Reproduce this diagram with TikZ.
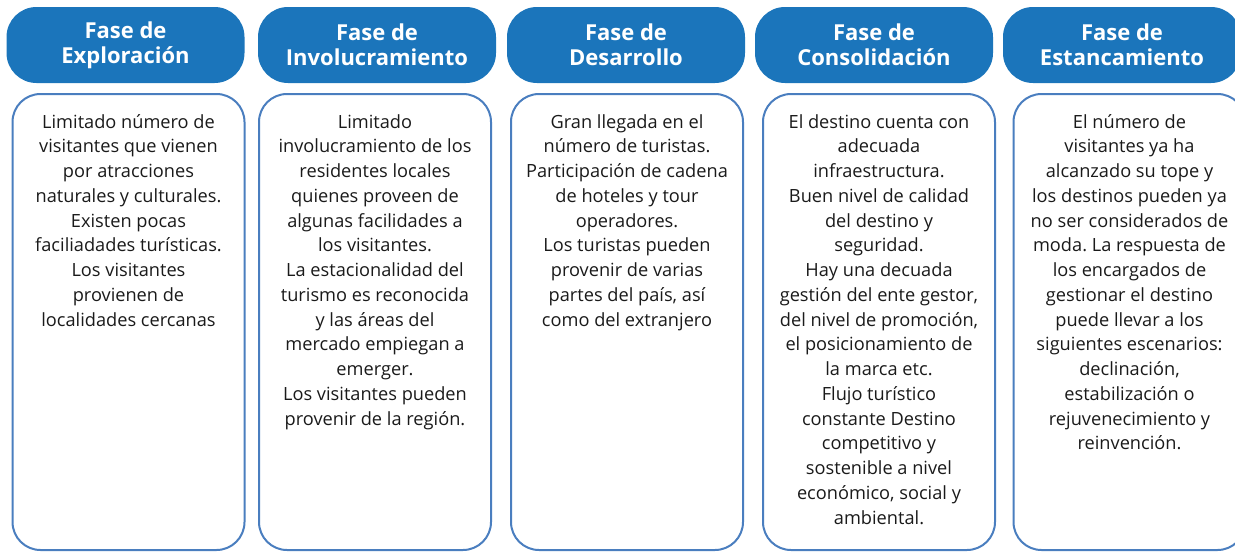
\documentclass[tikz,border=0pt]{standalone}
\usepackage{fontspec}
\setmainfont{Open Sans}
\usetikzlibrary{positioning}
\definecolor{phaseblue}{RGB}{27,117,187}
\definecolor{boxblue}{RGB}{74,126,191}
\definecolor{bodyink}{RGB}{26,26,26}
\frenchspacing
\tikzset{
  phasehead/.style = {
    fill=phaseblue, rounded corners=30pt, inner sep=0pt,
    minimum width=238pt, minimum height=76pt,
    text=white, align=center, font=\bfseries\fontsize{22}{25}\selectfont
  },
  phasebox/.style = {
    draw=boxblue, line width=2pt, rounded corners=28pt, inner sep=0pt,
    minimum width=232pt, minimum height=456pt, anchor=north
  },
  phasetext/.style = {
    inner sep=0pt, align=center, text=bodyink,
    font=\fontsize{18.2}{24.75}\selectfont, execute at begin node={\strut}
  },
}

\begin{document}
\begin{tikzpicture}[x=1pt,y=-1pt]
  \pgfmathsetmacro{\headmid}{45};
  \pgfmathsetmacro{\boxtop}{93};
  \pgfmathsetmacro{\textgap}{21};
  \clip (0,0) rectangle (1235,552);
  % headers
  \foreach \i/\hx/\phase in {1/125.5/Exploración,2/377/Involucramiento,3/626/Desarrollo,4/874/Consolidación,5/1122/Estancamiento} {%
    \node[phasehead] (head\i) at (\hx,\headmid) {Fase de\\\phase};
  }
  % boxes
  \foreach \i/\bx in {1/128.5,2/375,3/627,4/879,5/1129.5} {%
    \node[phasebox] (box\i) at (\bx,\boxtop) {};
  }
  % texts
  \node[phasetext,below=\textgap pt of box1.north] (text1) {Limitado número de\\visitantes que vienen\\por atracciones\\naturales y culturales.\\Existen pocas\\faciliadades turísticas.\\Los visitantes\\provienen de\\localidades cercanas};
  \node[phasetext,below=\textgap pt of box2.north] (text2) {Limitado\\involucramiento de los\\residentes locales\\quienes proveen de\\algunas facilidades a\\los visitantes.\\La estacionalidad del\\turismo es reconocida\\y las áreas del\\mercado empiegan a\\emerger.\\Los visitantes pueden\\provenir de la región.};
  \node[phasetext,below=\textgap pt of box3.north] (text3) {Gran llegada en el\\número de turistas.\\Participación de cadena\\de hoteles y tour\\operadores.\\Los turistas pueden\\provenir de varias\\partes del país, así\\como del extranjero};
  \node[phasetext,below=\textgap pt of box4.north] (text4) {El destino cuenta con\\adecuada\\infraestructura.\\Buen nivel de calidad\\del destino y\\seguridad.\\Hay una decuada\\gestión del ente gestor,\\del nivel de promoción,\\el posicionamiento de\\la marca etc.\\Flujo turístico\\constante Destino\\competitivo y\\sostenible a nivel\\económico, social y\\ambiental.};
  \node[phasetext,below=\textgap pt of box5.north] (text5) {El número de\\visitantes ya ha\\alcanzado su tope y\\los destinos pueden ya\\no ser considerados de\\moda. La respuesta de\\los encargados de\\gestionar el destino\\puede llevar a los\\siguientes escenarios:\\declinación,\\estabilización o\\rejuvenecimiento y\\reinvención.};
\end{tikzpicture}
\end{document}
